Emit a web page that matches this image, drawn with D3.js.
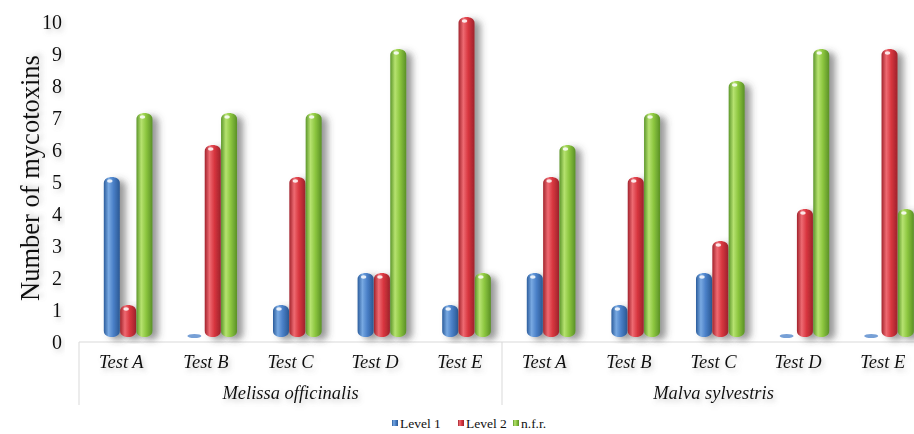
<!DOCTYPE html>
<html>
  <head>
    <meta charset="utf-8">
    <script src="https://d3js.org/d3.v7.min.js"></script>
    <title>Mycotoxins per test</title>
    <style>
      body { margin: 0; background: #fff; }
      text { font-family: "Liberation Serif", "Times New Roman", serif; fill: #111; }
    </style>
  </head>
  <body>
    <svg width="914" height="434"></svg>
    <script>
      // data
      const groups = ['Melissa officinalis', 'Malva sylvestris'];
      const tests = ['Test A', 'Test B', 'Test C', 'Test D', 'Test E'];
      const seriesNames = ['Level 1', 'Level 2', 'n.f.r.'];
      const level1 = [5, 0, 1, 2, 1, 2, 1, 2, 0, 0];
      const level2 = [1, 6, 5, 2, 10, 5, 5, 3, 4, 9];
      const nfr = [7, 7, 7, 9, 2, 6, 7, 8, 9, 4];
      const yTicks = [0, 1, 2, 3, 4, 5, 6, 7, 8, 9, 10];

      const svg = d3.select('svg');
      const colors = [
        ['#2b5c9c', '#78a9e2', '#4a80c8', '#2a5893'],
        ['#a2232c', '#ee6a72', '#d8363f', '#9e222b'],
        ['#5c962a', '#b6e270', '#8cc63f', '#5a9026']
      ];

      const defs = svg.append('defs');
      colors.forEach((c, i) => {
        const g = defs.append('linearGradient').attr('id', 'grad' + i)
          .attr('x1', 0).attr('x2', 1).attr('y1', 0).attr('y2', 0);
        [[0, c[0]], [0.3, c[1]], [0.6, c[2]], [1, c[3]]].forEach(s =>
          g.append('stop').attr('offset', s[0]).attr('stop-color', s[1]));
      });
      defs.append('filter').attr('id', 'barShadow')
        .attr('x', '-50%').attr('y', '-10%').attr('width', '250%').attr('height', '130%')
        .append('feDropShadow').attr('dx', 6).attr('dy', 3).attr('stdDeviation', 3.5)
        .attr('flood-color', '#444').attr('flood-opacity', 0.55);
      defs.append('filter').attr('id', 'textShadow')
        .attr('x', '-20%').attr('y', '-30%').attr('width', '150%').attr('height', '180%')
        .append('feDropShadow').attr('dx', 2).attr('dy', 3).attr('stdDeviation', 2.5)
        .attr('flood-color', '#777').attr('flood-opacity', 0.4);

      // scales
      const left = 79, bandW = 84.6;
      const labels = groups.flatMap(g => tests.map(t => g + '|' + t));
      const x = d3.scaleBand().domain(labels).range([left, left + bandW * labels.length]);
      const xs = d3.scaleBand().domain(seriesNames).range([0, 49]);
      const y = d3.scaleLinear().domain([0, 10]).range([342, 22]);
      const depthX = 7, depthY = -5;

      // axis lines
      const axisColor = '#d9d9d9';
      svg.append('line').attr('x1', left).attr('x2', 914)
        .attr('y1', y(0)).attr('y2', y(0)).attr('stroke', axisColor);
      [0, 5, 10].forEach(i => {
        const xx = left + i * bandW;
        svg.append('line').attr('x1', xx).attr('x2', xx)
          .attr('y1', y(0)).attr('y2', 405).attr('stroke', axisColor);
      });

      // y tick labels
      svg.append('g').selectAll('text').data(yTicks).join('text')
        .attr('x', 62).attr('y', d => y(d)).attr('dy', '0.35em')
        .attr('text-anchor', 'end').attr('font-size', 20)
        .attr('filter', 'url(#textShadow)').text(d => d);

      svg.append('text')
        .attr('transform', 'translate(30,' + 178 + ') rotate(-90)')
        .attr('text-anchor', 'middle').attr('dy', '0.35em')
        .attr('font-size', 26.5).attr('filter', 'url(#textShadow)')
        .text('Number of mycotoxins');

      // bars
      const allSeries = [level1, level2, nfr];
      const bars = svg.append('g');
      const bw = 16, ry = 6;
      allSeries.forEach((vals, si) => {
        vals.forEach((v, i) => {
          const x0 = x(labels[i]) + x.bandwidth() / 2 - 24.5 + depthX + xs(seriesNames[si]);
          const base = y(0) + depthY;
          if (v === 0) {
            bars.append('ellipse').attr('cx', x0 + bw / 2 - 2).attr('cy', base - 1)
              .attr('rx', 7).attr('ry', 2).attr('fill', colors[si][2]).attr('opacity', 0.75);
            return;
          }
          const top = y(v) + depthY;
          const p = d3.path();
          p.moveTo(x0, top + ry);
          p.bezierCurveTo(x0, top - 2, x0 + bw, top - 2, x0 + bw, top + ry);
          p.lineTo(x0 + bw, base - ry);
          p.bezierCurveTo(x0 + bw, base + 2, x0, base + 2, x0, base - ry);
          p.closePath();
          bars.append('path').attr('d', p.toString())
            .attr('fill', 'url(#grad' + si + ')').attr('filter', 'url(#barShadow)');
          bars.append('ellipse').attr('cx', x0 + 6).attr('cy', top + 4)
            .attr('rx', 2.8).attr('ry', 1.8).attr('fill', '#fff').attr('opacity', 0.85);
        });
      });

      // category labels
      svg.append('g').selectAll('text').data(labels).join('text')
        .attr('x', d => x(d) + x.bandwidth() / 2).attr('y', 368)
        .attr('text-anchor', 'middle').attr('font-size', 18.5).attr('font-style', 'italic')
        .attr('filter', 'url(#textShadow)').text(d => d.split('|')[1]);

      svg.append('g').selectAll('text').data(groups).join('text')
        .attr('x', (d, i) => left + bandW * (2.5 + 5 * i)).attr('y', 399)
        .attr('text-anchor', 'middle').attr('font-size', 18.5).attr('font-style', 'italic')
        .attr('filter', 'url(#textShadow)').text(d => d);

      // legend
      const legendX = [392, 458, 513];
      const legend = svg.append('g');
      seriesNames.forEach((s, i) => {
        legend.append('rect').attr('x', legendX[i]).attr('y', 420)
          .attr('width', 6).attr('height', 6).attr('fill', 'url(#grad' + i + ')');
        legend.append('text').attr('x', legendX[i] + 8).attr('y', 423)
          .attr('dy', '0.35em').attr('font-size', 13.5).text(s);
      });
    </script>
  </body>
</html>
